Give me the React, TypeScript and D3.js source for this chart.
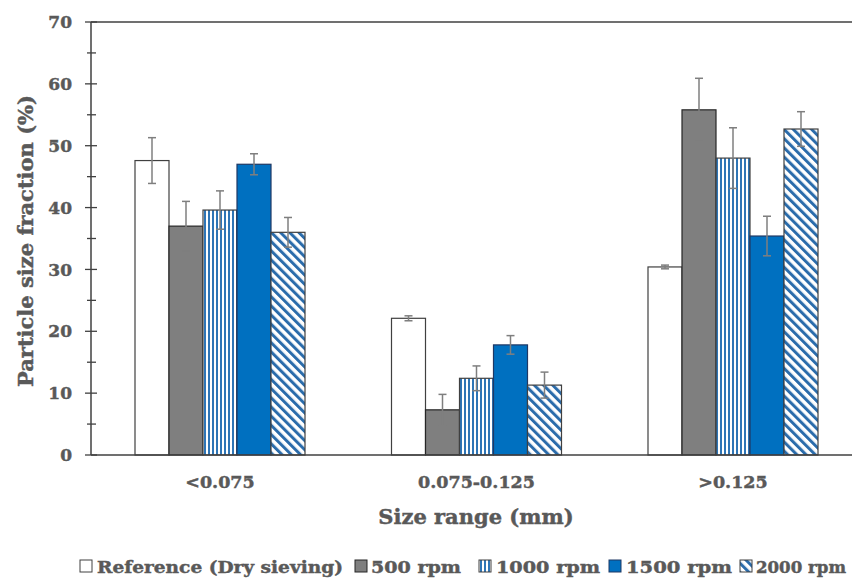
import React from "react";
import * as d3 from "d3";

const categories = ["<0.075", "0.075-0.125", ">0.125"];
const seriesNames = ["Reference (Dry sieving)", "500 rpm", "1000 rpm", "1500 rpm", "2000 rpm"];

// Mean fraction (%) per series, one entry per size range
const refValues = [47.6, 22.1, 30.4];
const rpm500Values = [37.0, 7.3, 55.8];
const rpm1000Values = [39.6, 12.4, 48.0];
const rpm1500Values = [47.0, 17.8, 35.4];
const rpm2000Values = [36.0, 11.3, 52.7];

// Standard deviations
const refErrors = [3.7, 0.4, 0.3];
const rpm500Errors = [4.0, 2.5, 5.1];
const rpm1000Errors = [3.1, 2.0, 4.9];
const rpm1500Errors = [1.7, 1.5, 3.2];
const rpm2000Errors = [2.4, 2.1, 2.8];

const yTicks = [0, 10, 20, 30, 40, 50, 60, 70];
const yMinorTicks = [5, 15, 25, 35, 45, 55, 65];

const allValues = [refValues, rpm500Values, rpm1000Values, rpm1500Values, rpm2000Values];
const allErrors = [refErrors, rpm500Errors, rpm1000Errors, rpm1500Errors, rpm2000Errors];

const W = 852;
const H = 580;
const FONT = "'DejaVu Serif', 'Liberation Serif', serif";
const TEXT = "#595959";

const fills = ["#ffffff", "#7f7f7f", "url(#vstripe)", "#0070c0", "url(#dstripe)"];
const strokes = ["#404040", "#262626", "#404040", "#1f3864", "#404040"];

// heavier text, closer to a slab bold face
const textStyle = {
  fontWeight: "bold" as const,
  fill: TEXT,
  stroke: TEXT,
  strokeWidth: 0.45,
};

export default function App() {
  const y = d3.scaleLinear().domain([0, 70]).range([455, 22]);
  const x0 = d3.scaleBand<string>().domain(categories).range([91.75, 861.25]);
  const groupW = 170;
  const x1 = d3
    .scaleBand<string>()
    .domain(seriesNames)
    .range([0, groupW])
    .paddingInner(0);

  const plotLeft = 91;
  const plotRight = 852;

  const legendItems = [
    { box: 80, text: 97, len: 246 },
    { box: 355, text: 371, len: 90 },
    { box: 479, text: 496, len: 104 },
    { box: 609, text: 626, len: 106 },
    { box: 740, text: 756, len: 90 },
  ];

  return (
    <svg
      width={W}
      height={H}
      style={{ position: "absolute", left: 0, top: 0, background: "#fff" }}
      fontFamily={FONT}
    >
      <defs>
        <pattern id="vstripe" patternUnits="userSpaceOnUse" width={4} height={4}>
          <rect width={4} height={4} fill="#ffffff" />
          <rect x={0} width={2} height={4} fill="#2e75b6" />
        </pattern>
        <pattern
          id="dstripe"
          patternUnits="userSpaceOnUse"
          width={6.5}
          height={6.5}
          patternTransform="rotate(-45)"
        >
          <rect width={6.5} height={6.5} fill="#ffffff" />
          <rect x={0} width={3} height={6.5} fill="#2b6cab" />
        </pattern>
      </defs>

      {/* frame line at the top value */}
      <line x1={plotLeft} x2={plotRight} y1={y(70)} y2={y(70)} stroke="#404040" strokeWidth={1.5} />

      {/* bars and error bars */}
      {categories.map((c, ci) => {
        const gx = x0(c)! + x0.bandwidth() / 2 - groupW / 2;
        return (
          <g key={c}>
            {seriesNames.map((s, si) => {
              const v = allValues[si][ci];
              const bx = gx + x1(s)!;
              return (
                <rect
                  key={s}
                  x={bx}
                  y={y(v)}
                  width={x1.bandwidth()}
                  height={y(0) - y(v)}
                  fill={fills[si]}
                  stroke={strokes[si]}
                  strokeWidth={1.2}
                />
              );
            })}
            {seriesNames.map((s, si) => {
              const v = allValues[si][ci];
              const e = allErrors[si][ci];
              const cx = gx + x1(s)! + x1.bandwidth() / 2;
              return (
                <g key={s + "err"} stroke="#7f7f7f" strokeWidth={1.5}>
                  <line x1={cx} x2={cx} y1={y(v + e)} y2={y(v - e)} />
                  <line x1={cx - 4} x2={cx + 4} y1={y(v + e)} y2={y(v + e)} />
                  <line x1={cx - 4} x2={cx + 4} y1={y(v - e)} y2={y(v - e)} />
                </g>
              );
            })}
          </g>
        );
      })}

      {/* axes */}
      <line x1={plotLeft} x2={plotRight} y1={y(0)} y2={y(0)} stroke="#404040" strokeWidth={1.5} />
      <line x1={plotLeft} x2={plotLeft} y1={y(0)} y2={y(70)} stroke="#404040" strokeWidth={1.5} />
      {yTicks.map((t) => (
        <g key={t}>
          <line x1={85} x2={97} y1={y(t)} y2={y(t)} stroke="#404040" strokeWidth={1.3} />
          <text x={72} y={y(t)} dy="0.36em" textAnchor="end" fontSize={17} {...textStyle}>
            {t}
          </text>
        </g>
      ))}
      {yMinorTicks.map((t) => (
        <line key={t} x1={87} x2={96} y1={y(t)} y2={y(t)} stroke="#404040" strokeWidth={1.3} />
      ))}

      {categories.map((c) => (
        <text
          key={c}
          x={x0(c)! + x0.bandwidth() / 2}
          y={488}
          textAnchor="middle"
          fontSize={17.5}
          {...textStyle}
        >
          {c}
        </text>
      ))}

      <text x={476} y={524} textAnchor="middle" fontSize={21} {...textStyle}>
        Size range (mm)
      </text>
      <text
        transform={`translate(33,241) rotate(-90)`}
        textAnchor="middle"
        fontSize={21}
        {...textStyle}
      >
        Particle size fraction (%)
      </text>

      {/* legend */}
      {seriesNames.map((s, si) => (
        <g key={s}>
          <rect
            x={legendItems[si].box}
            y={560}
            width={12}
            height={12}
            fill={fills[si]}
            stroke={strokes[si]}
            strokeWidth={1}
          />
          <text
            x={legendItems[si].text}
            y={572.5}
            fontSize={17}
            textLength={legendItems[si].len}
            lengthAdjust="spacingAndGlyphs"
            {...textStyle}
          >
            {s}
          </text>
        </g>
      ))}
    </svg>
  );
}
